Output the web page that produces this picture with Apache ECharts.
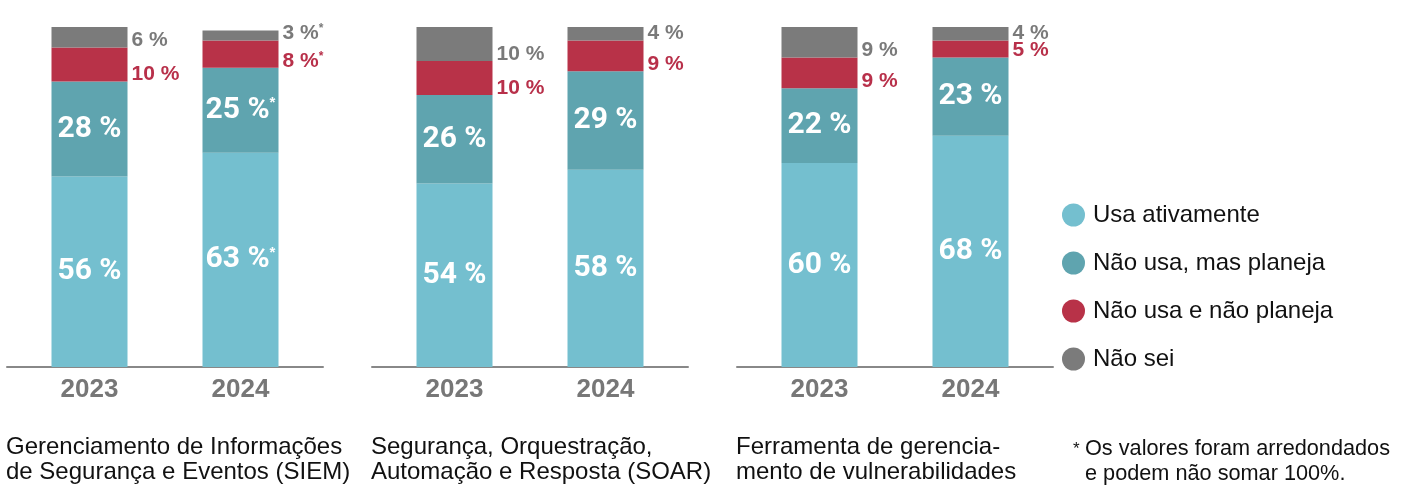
<!DOCTYPE html>
<html><head><meta charset="utf-8">
<script src="https://cdn.jsdelivr.net/npm/echarts@6/dist/echarts.min.js"></script>
<style>html,body{margin:0;padding:0;background:#fff}#c{width:1404px;height:492px}</style>
</head><body><div id="c"></div>
<script>
// ---- data ----
const years = ['2023', '2024'];
const panelTitles = [
  'Gerenciamento de Informações\nde Segurança e Eventos (SIEM)',
  'Segurança, Orquestração,\nAutomação e Resposta (SOAR)',
  'Ferramenta de gerencia-\nmento de vulnerabilidades'
];
const seriesNames = ['Usa ativamente', 'Não usa, mas planeja', 'Não usa e não planeja', 'Não sei'];
const usaAtivamente    = [[56, 63], [54, 58], [60, 68]];
const naoUsaMasPlaneja = [[28, 25], [26, 29], [22, 23]];
const naoUsaNaoPlaneja = [[10, 8], [10, 9], [9, 5]];
const naoSei           = [[6, 3], [10, 4], [9, 4]];
const arredondado      = [[false, true], [false, false], [false, false]];
const footnoteMark = '*';
const footnoteText = 'Os valores foram arredondados\ne podem não somar 100%.';

// ---- styling / layout ----
const FONT = "'Liberation Sans', Arial, Helvetica, sans-serif";
const NARROW = "Roboto, 'Liberation Sans', sans-serif";
const colors = ['#74BFCF', '#5FA4AF', '#B83248', '#7B7B7B'];
const labelColors = ['#ffffff', '#ffffff', '#B8304A', '#7A7A7A'];
const panelLeft = [7, 372, 737];
const lineW = 316, inset = 7, gTop = 27, gH = 340;
const allValues = [usaAtivamente, naoUsaMasPlaneja, naoUsaNaoPlaneja, naoSei];

const chart = echarts.init(document.getElementById('c'), null, {renderer: 'canvas'});
const grid = [], xAxis = [], yAxis = [], series = [], title = [];

panelLeft.forEach((L, p) => {
  grid.push({left: L + inset, width: lineW - 2 * inset, top: gTop, height: gH});
  grid.push({left: L, width: lineW, top: gTop, height: gH});
  xAxis.push({
    type: 'category', gridIndex: 2 * p, data: years,
    axisLine: {show: false}, axisTick: {show: false},
    axisLabel: {fontSize: 26, fontWeight: 'bold', color: '#777', fontFamily: FONT, margin: 10}
  });
  xAxis.push({
    type: 'category', gridIndex: 2 * p + 1, data: years,
    axisLine: {show: true, lineStyle: {color: '#888', width: 2}},
    axisTick: {show: false}, axisLabel: {show: false}
  });
  yAxis.push({type: 'value', gridIndex: 2 * p, min: 0, max: 100, show: false});
  yAxis.push({type: 'value', gridIndex: 2 * p + 1, min: 0, max: 100, show: false});

  allValues.forEach((arr, s) => {
    const inner = s < 2;
    const label = inner ? {
      show: true, position: 'inside',
      formatter: (pr) => '{v|' + pr.value + ' %}' + (arredondado[p][pr.dataIndex] ? '{s|*}' : ''),
      rich: {
        v: {fontFamily: NARROW, fontWeight: 'bold', fontSize: 30, color: '#fff'},
        s: {fontFamily: FONT, fontWeight: 'bold', fontSize: 15, color: '#fff', verticalAlign: 'top', lineHeight: 15}
      }
    } : {
      show: true, position: ['100%', '100%'], align: 'left', verticalAlign: 'middle', offset: [4, -7],
      formatter: (pr) => '{v|' + pr.value + ' %}' + (arredondado[p][pr.dataIndex] ? '{s|*}' : ''),
      rich: {
        v: {fontFamily: FONT, fontWeight: 'bold', fontSize: 21, color: labelColors[s]},
        s: {fontFamily: FONT, fontWeight: 'bold', fontSize: 12, color: labelColors[s], verticalAlign: 'top', lineHeight: 12}
      }
    };
    series.push({
      type: 'bar', name: seriesNames[s], xAxisIndex: 2 * p, yAxisIndex: 2 * p,
      stack: 'panel' + p, barWidth: 76, data: arr[p],
      itemStyle: {color: colors[s]}, label: label, silent: true,
      emphasis: {disabled: true}
    });
  });

  title.push({
    text: panelTitles[p], left: L - 1, top: 435, padding: 0,
    textStyle: {fontSize: 24, fontWeight: 'normal', color: '#111', lineHeight: 25, fontFamily: FONT}
  });
});

title.push({
  text: footnoteMark, left: 1073, top: 441, padding: 0,
  textStyle: {fontSize: 17, fontWeight: 'normal', color: '#111', fontFamily: FONT}
});
title.push({
  text: footnoteText, left: 1085, top: 437, padding: 0,
  textStyle: {fontSize: 21.7, fontWeight: 'normal', color: '#111', lineHeight: 25, fontFamily: FONT}
});

chart.setOption({
  animation: false,
  backgroundColor: '#fff',
  color: colors,
  grid, xAxis, yAxis, series, title,
  legend: {
    orient: 'vertical', left: 1057, top: 198, data: seriesNames,
    icon: 'circle', itemWidth: 23, itemHeight: 23, itemGap: 24, selectedMode: false,
    textStyle: {fontSize: 24, color: '#111', fontFamily: FONT, padding: [0, 0, 0, 3]}
  }
});
</script></body></html>
